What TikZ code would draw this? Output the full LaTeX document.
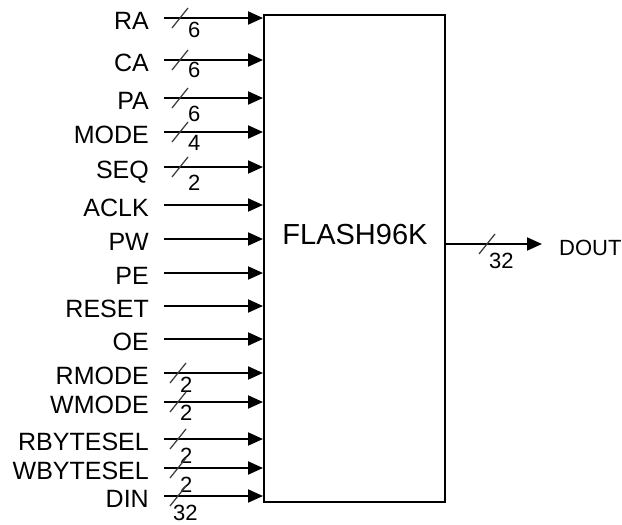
\documentclass[tikz,border=0pt]{standalone}
\usepackage{fontspec}
\setmainfont{Liberation Sans}
\usetikzlibrary{arrows.meta, positioning, calc}

\begin{document}
\begin{tikzpicture}[
  x=1pt, y=-1pt,
  every node/.style={font=\fontsize{25}{29}\selectfont, inner sep=0pt},
  sig/.style={anchor=base east},
  wire/.style={-{Triangle[length=15pt,width=13pt]}, line width=2pt},
  tick/.style={line width=1.3pt, black!75},
  bw/.style={anchor=north west, font=\fontsize{22}{26}\selectfont},
]
\useasboundingbox (0,0) rectangle (622,525);

% block
\node[draw, line width=2pt, anchor=north west, minimum width=181pt, minimum height=487pt] (flash) at (263,14) {};
\node (title) at (355,235) {\fontsize{29}{34}\selectfont FLASH96K};

% inputs
\foreach \name/\y in {RA/18, CA/60, PA/98, MODE/132, SEQ/167, ACLK/205, PW/239, PE/273, RESET/306, OE/339, RMODE/373, WMODE/402, RBYTESEL/439, WBYTESEL/468, DIN/496} {
  \node[sig] (\name) at (149,\y+11) {\name};
  \coordinate (\name-in) at (164,\y);
  \draw[wire] (\name-in) -- (\name-in -| flash.west);
}

% bus widths
\foreach \name/\w/\ox/\dx/\dy in {RA/6/16/8/4, CA/6/16/8/2, PA/6/16/8/8, MODE/4/16/8/3, SEQ/2/16/8/8, RMODE/2/14/2/4, WMODE/2/14/2/3, RBYTESEL/2/14/2/9, WBYTESEL/2/14/2/9, DIN/32/14/-5/9} {
  \draw[tick] ($(\name-in)+(\ox-8,10)$) -- ++(16,-20);
  \node[bw] at ($(\name-in)+(\ox+\dx,\dy)$) {\w};
}

% output
\coordinate (dout-start) at ([yshift=14.5pt]flash.east);
\node[anchor=base west, font=\fontsize{22}{26}\selectfont] (DOUT) at (559,255) {DOUT};
\draw[wire] (dout-start) -- ([xshift=-17pt]DOUT.west |- dout-start);
\draw[tick] ($(dout-start)+(33,10)$) -- ++(16,-20);
\node[bw] at ($(dout-start)+(43,9)$) {32};
\end{tikzpicture}
\end{document}
